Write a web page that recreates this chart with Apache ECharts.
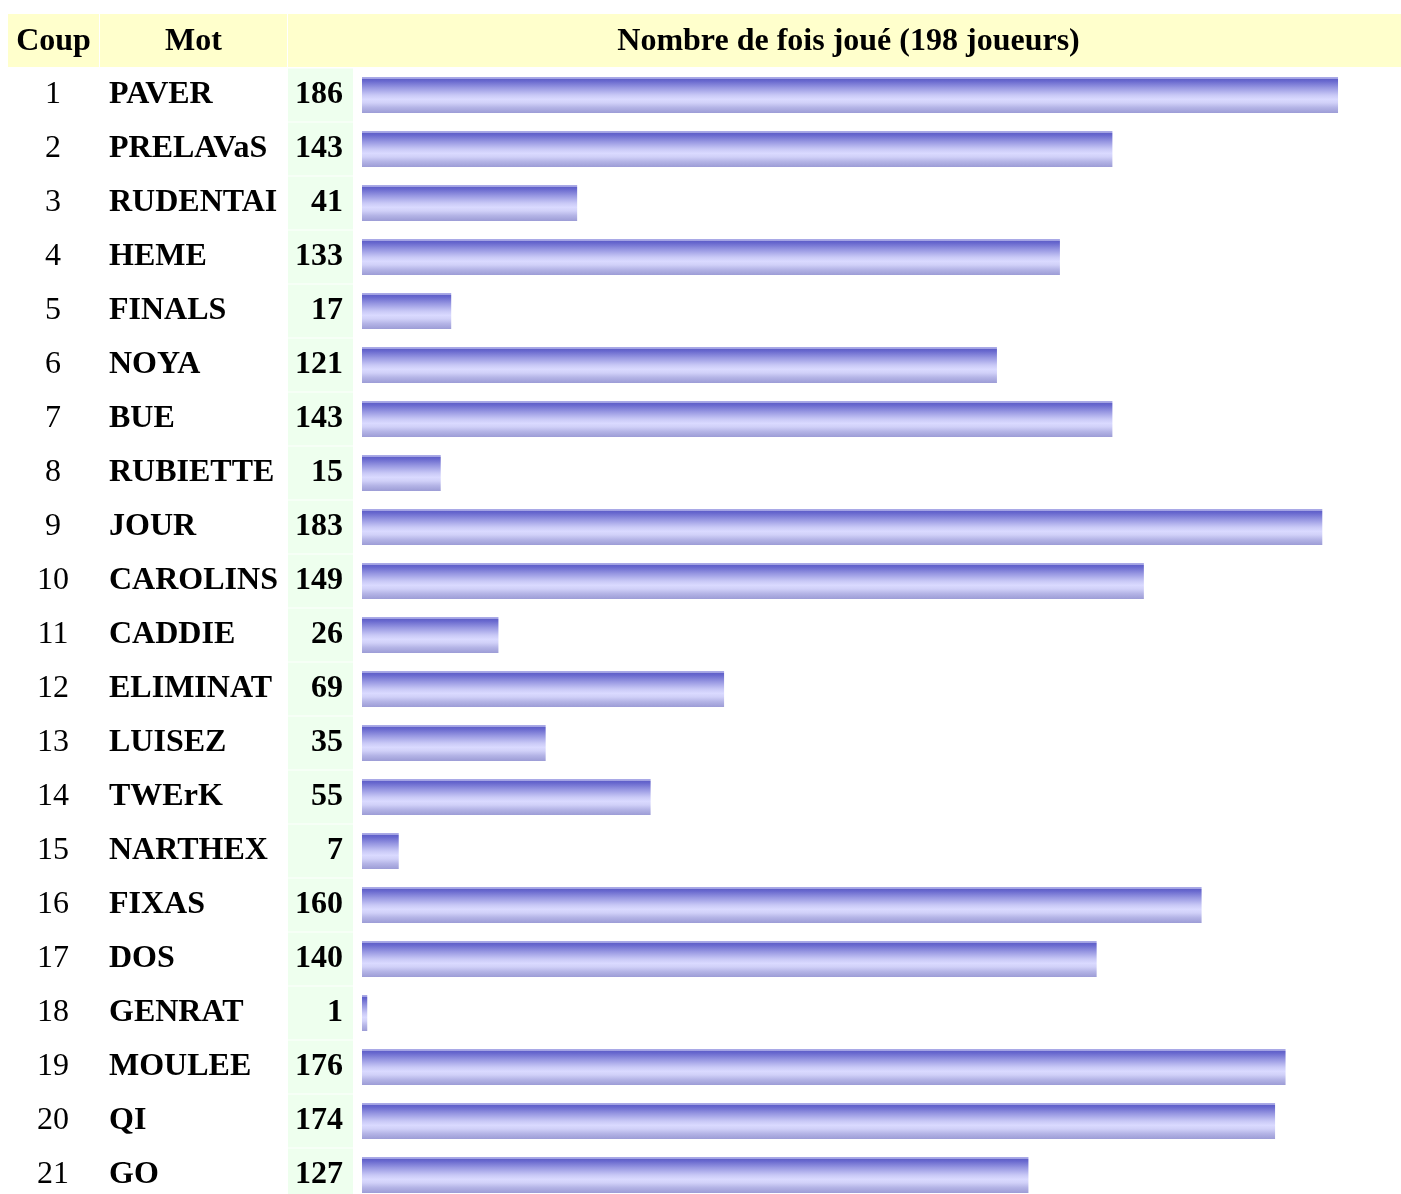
<!DOCTYPE html>
<html>
<head>
<meta charset="utf-8">
<script src="https://cdn.jsdelivr.net/npm/echarts@6/dist/echarts.min.js"></script>
<style>
html,body{margin:0;padding:0;background:#fff;overflow:hidden;}
#chart{width:1401px;height:1194px;}
</style>
</head>
<body>
<div id="chart"></div>
<script>
const coups = ['1','2','3','4','5','6','7','8','9','10','11','12','13','14','15','16','17','18','19','20','21'];
const mots = ['PAVER','PRELAVaS','RUDENTAI','HEME','FINALS','NOYA','BUE','RUBIETTE','JOUR','CAROLINS','CADDIE','ELIMINAT','LUISEZ','TWErK','NARTHEX','FIXAS','DOS','GENRAT','MOULEE','QI','GO'];
const counts = [186,143,41,133,17,121,143,15,183,149,26,69,35,55,7,160,140,1,176,174,127];
const totalPlayers = 198;
const headers = ['Coup','Mot','Nombre de fois joué (198 joueurs)'];

const chart = echarts.init(document.getElementById('chart'));
const font = '"Liberation Serif", "Times New Roman", serif';
const fs = 32;

const barGradient = new echarts.graphic.LinearGradient(0,0,0,1,[
  {offset:0, color:'#a9a9e6'},
  {offset:0.04, color:'#a9a9e6'},
  {offset:0.06, color:'#5f5fc9'},
  {offset:0.12, color:'#6a6acf'},
  {offset:0.3, color:'#9898e2'},
  {offset:0.5, color:'#c8c8f6'},
  {offset:0.62, color:'#dadaff'},
  {offset:0.72, color:'#d0d0f8'},
  {offset:0.85, color:'#b4b4e6'},
  {offset:1, color:'#9c9cd6'}
]);

const hdrY = 14, hdrH = 53;
const cols = [[8,91],[100,187],[288,1113]];
const graphics = [];
cols.forEach((c,i)=>{
  graphics.push({type:'rect', shape:{x:c[0], y:hdrY, width:c[1], height:hdrH}, style:{fill:'#ffffcc'}, silent:true});
  graphics.push({type:'text', x:c[0]+c[1]/2 + (i===2?4:0), y:hdrY+hdrH/2+1, style:{text:headers[i], font:'bold '+fs+'px '+font, fill:'#000', textAlign:'center', textVerticalAlign:'middle'}});
});

const catIdx = counts.map((v,i)=>i);
const baseAxis = {
  type:'category', inverse:true, data:catIdx, position:'left',
  axisLine:{show:false}, axisTick:{show:false}, splitLine:{show:false}
};

chart.setOption({
  animation:false,
  backgroundColor:'#fff',
  graphic: graphics,
  grid:{left:362, top:68, width:1039, height:1134, containLabel:false, outerBoundsMode:'none'},
  xAxis:{type:'value', min:0, max:totalPlayers, show:false},
  yAxis:[
    Object.assign({}, baseAxis, {
      axisLabel:{
        margin:9, align:'right',
        formatter:(v,i)=>'{c|'+counts[i]+'}',
        rich:{
          c:{width:55, padding:[0,10,0,0], align:'right', fontFamily:font, fontSize:fs, fontWeight:'bold', color:'#000', height:53, lineHeight:53, backgroundColor:'#eeffee'}
        }
      }
    }),
    Object.assign({}, baseAxis, {
      offset:253,
      axisLabel:{margin:0, align:'left', formatter:(v,i)=>mots[i], fontFamily:font, fontSize:fs, fontWeight:'bold', color:'#000'}
    }),
    Object.assign({}, baseAxis, {
      offset:309,
      axisLabel:{margin:0, align:'center', formatter:(v,i)=>coups[i], fontFamily:font, fontSize:fs, color:'#000'}
    })
  ],
  series:[{
    type:'bar', data:counts, barWidth:36, yAxisIndex:0,
    itemStyle:{color:barGradient},
    silent:true
  }]
});
</script>
</body>
</html>
